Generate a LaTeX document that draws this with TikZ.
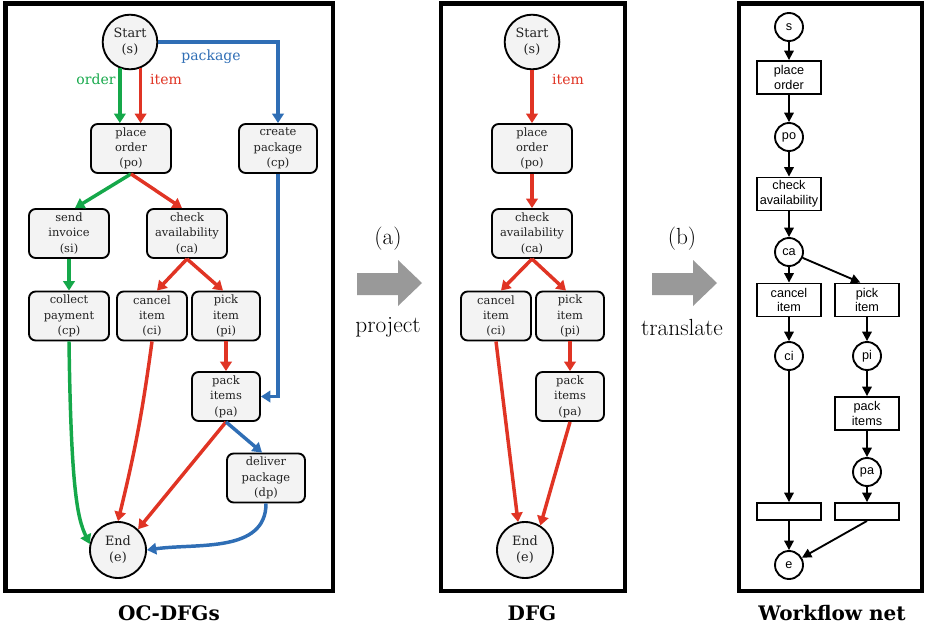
\documentclass[tikz,border=0pt]{standalone}
\usepackage{fontspec}
\newfontfamily\dvs{DejaVu Serif}
\newfontfamily\lsans{Liberation Sans}
\usetikzlibrary{arrows.meta,calc}
\definecolor{ocgreen}{HTML}{15A84A}
\definecolor{ocred}{HTML}{E03424}
\definecolor{ocblue}{HTML}{2F6EB5}
\definecolor{nodegray}{HTML}{F3F3F3}
\definecolor{arrowgray}{HTML}{999999}
\definecolor{txt}{HTML}{222222}
\begin{document}
\begin{tikzpicture}[x=0.75pt,y=0.75pt,
  act/.style={draw, line width=1.4pt, rounded corners=5pt, fill=nodegray, align=center, text=txt,
    inner sep=0pt, minimum height=36.75pt, font=\dvs\fontsize{8.6}{11.5}\selectfont},
  ev/.style={draw, circle, line width=1.4pt, fill=nodegray, align=center, inner sep=0pt, text=txt,
    minimum size=41pt, font=\dvs\fontsize{9.6}{12}\selectfont},
  panel/.style={draw, line width=3.2pt},
  flow/.style={line width=2.6pt, -{Triangle[length=7pt,width=8.5pt]}},
  lbl/.style={font=\dvs\fontsize{10.5}{12}\selectfont},
  ttl/.style={font=\dvs\bfseries\fontsize{15}{18}\selectfont},
  op/.style={font=\fontsize{17.5}{20}\selectfont},
  place/.style={draw, circle, line width=1.4pt, fill=white, minimum size=21pt, inner sep=0pt,
    font=\lsans\fontsize{9.5}{10}\selectfont},
  trans/.style={draw, rectangle, line width=1.4pt, fill=white, minimum width=48pt,
    minimum height=24.75pt, inner sep=0pt, align=center, font=\lsans\fontsize{9.5}{11}\selectfont},
  silent/.style={draw, rectangle, line width=1.4pt, fill=white, minimum width=48pt,
    minimum height=12.75pt, inner sep=0pt},
  pn/.style={line width=1.4pt, -{Triangle[length=7pt,width=7pt]}},
  bigarrow/.style={fill=arrowgray}
]
\useasboundingbox (0,0) rectangle (927,-628);

% ---------------- Panel 1: OC-DFGs ----------------
\draw[panel] (5.5,-3.5) rectangle (333,-591);
\node[ev] (s1) at (130,-42) {Start\\(s)};
\node[act, minimum width=60pt] (po1) at (131,-148.5) {place\\order\\(po)};
\node[act, minimum width=58.5pt] (crp1) at (278,-148.5) {create\\package\\(cp)};
\node[act, minimum width=60pt] (si1) at (69,-233.5) {send\\invoice\\(si)};
\node[act, minimum width=60pt] (ca1) at (187,-233.5) {check\\availability\\(ca)};
\node[act, minimum width=60pt] (cop1) at (69,-316) {collect\\payment\\(cp)};
\node[act, minimum width=52.5pt] (ci1) at (152,-316) {cancel\\item\\(ci)};
\node[act, minimum width=51pt] (pi1) at (226,-316) {pick\\item\\(pi)};
\node[act, minimum width=51pt] (pa1) at (226,-396.5) {pack\\items\\(pa)};
\node[act, minimum width=58.5pt] (dp1) at (266,-478) {deliver\\package\\(dp)};
\node[ev, minimum size=42pt] (e1) at (118,-550) {End\\(e)};

\node[lbl, text=ocgreen] (lorder) at (96,-79) {order};
\node[lbl, text=ocred] (litem1) at (166,-79) {item};
\node[lbl, text=ocblue] (lpack) at (211,-57) {package};

\draw[flow, ocgreen] (s1.-111.7) -- (s1.-111.7 |- po1.north);
\draw[flow, ocred] (s1.-68.3) -- (s1.-68.3 |- po1.north);
\draw[flow, ocblue] (s1.east) -- (s1.east -| crp1.north) -- (crp1.north);
\draw[flow, ocgreen] (po1.south) -- ([xshift=4.5pt]si1.north);
\draw[flow, ocred] (po1.south) -- ([xshift=-3.75pt]ca1.north);
\draw[flow, ocgreen] (si1.south) -- (cop1.north);
\draw[flow, ocred] (ca1.south) -- ([xshift=3.75pt]ci1.north);
\draw[flow, ocred] (ca1.south) -- ([xshift=-2.25pt]pi1.north);
\draw[flow, ocblue] (crp1.south) -- (crp1.south |- pa1.east) -- (pa1.east);
\draw[flow, ocred] (pi1.south) -- (pa1.north);
\draw[flow, ocred] (ci1.south) to[bend left=3] (e1.north);
\draw[flow, ocred] (pa1.south) -- (e1.46);
\draw[flow, ocblue] (pa1.south) -- ([xshift=-3pt]dp1.north);
\draw[flow, ocblue] (dp1.south) to[out=-90, in=8] (e1.east);
\draw[flow, ocgreen] (cop1.south) .. controls ($(cop1.south)+(2,-150)$) and ($(e1.168)+(-12,25)$) .. (e1.168);

\node[ttl] (t1) at (169,-613) {OC-DFGs};

% ---------------- middle arrows ----------------
\fill[bigarrow] (357,-273) -- (398,-273) -- (398,-260) -- (422,-283) -- (398,-306) -- (398,-295) -- (357,-295) -- cycle;
\node[op] (la) at (388,-239) {(a)};
\node[op] (lproj) at (388,-327) {project};
\fill[bigarrow] (652,-273) -- (693,-273) -- (693,-260) -- (717,-283) -- (693,-306) -- (693,-295) -- (652,-295) -- cycle;
\node[op] (lb) at (682,-239) {(b)};
\node[op] (ltr) at (682,-327) {translate};

% ---------------- Panel 2: DFG ----------------
\draw[panel] (441,-3.5) rectangle (625,-591);
\node[ev] (s2) at (532,-42) {Start\\(s)};
\node[act, minimum width=60pt] (po2) at (532,-148.5) {place\\order\\(po)};
\node[act, minimum width=60pt] (ca2) at (532,-233.5) {check\\availability\\(ca)};
\node[act, minimum width=52.5pt] (ci2) at (496,-316) {cancel\\item\\(ci)};
\node[act, minimum width=51pt] (pi2) at (570,-316) {pick\\item\\(pi)};
\node[act, minimum width=51pt] (pa2) at (570,-396.5) {pack\\items\\(pa)};
\node[ev, minimum size=42pt] (e2) at (525,-550) {End\\(e)};
\node[lbl, text=ocred] (litem2) at (568,-79) {item};

\draw[flow, ocred] (s2.south) -- (po2.north);
\draw[flow, ocred] (po2.south) -- (ca2.north);
\draw[flow, ocred] (ca2.south) -- ([xshift=3.75pt]ci2.north);
\draw[flow, ocred] (ca2.south) -- ([xshift=-3pt]pi2.north);
\draw[flow, ocred] (pi2.south) -- (pa2.north);
\draw[flow, ocred] (ci2.south) -- (e2.104);
\draw[flow, ocred] (pa2.south) -- (e2.58);

\node[ttl] (t2) at (532,-613) {DFG};

% ---------------- Panel 3: Workflow net ----------------
\draw[panel] (739,-3.5) rectangle (922,-591);
\node[place] (ps) at (789,-27) {s};
\node[trans] (tpo) at (789,-77.5) {place\\order};
\node[place] (ppo) at (789,-137) {po};
\node[trans] (tca) at (789,-194) {check\\availability};
\node[place] (pca) at (789,-252) {ca};
\node[trans] (tci) at (789,-300) {cancel\\item};
\node[trans] (tpi) at (867,-300) {pick\\item};
\node[place] (pci) at (789,-356) {ci};
\node[place] (ppi) at (867,-356) {pi};
\node[trans] (tpa) at (867,-413.5) {pack\\items};
\node[place] (ppa) at (867,-472) {pa};
\node[silent] (tl) at (789,-511.5) {};
\node[silent] (tr) at (867,-511.5) {};
\node[place] (pe) at (789,-565) {e};

\draw[pn] (ps) -- (tpo);
\draw[pn] (tpo) -- (ppo);
\draw[pn] (ppo) -- (tca);
\draw[pn] (tca) -- (pca);
\draw[pn] (pca) -- (tci);
\draw[pn] (pca) -- ([xshift=-5pt]tpi.north);
\draw[pn] (tci) -- (pci);
\draw[pn] (tpi) -- (ppi);
\draw[pn] (pci) -- (tl);
\draw[pn] (ppi) -- (tpa);
\draw[pn] (tpa) -- (ppa);
\draw[pn] (ppa) -- (tr);
\draw[pn] (tl) -- (pe);
\draw[pn] (tr.south) -- (pe);

\node[ttl] (t3) at (832,-613) {Workflow net};
\end{tikzpicture}
\end{document}
